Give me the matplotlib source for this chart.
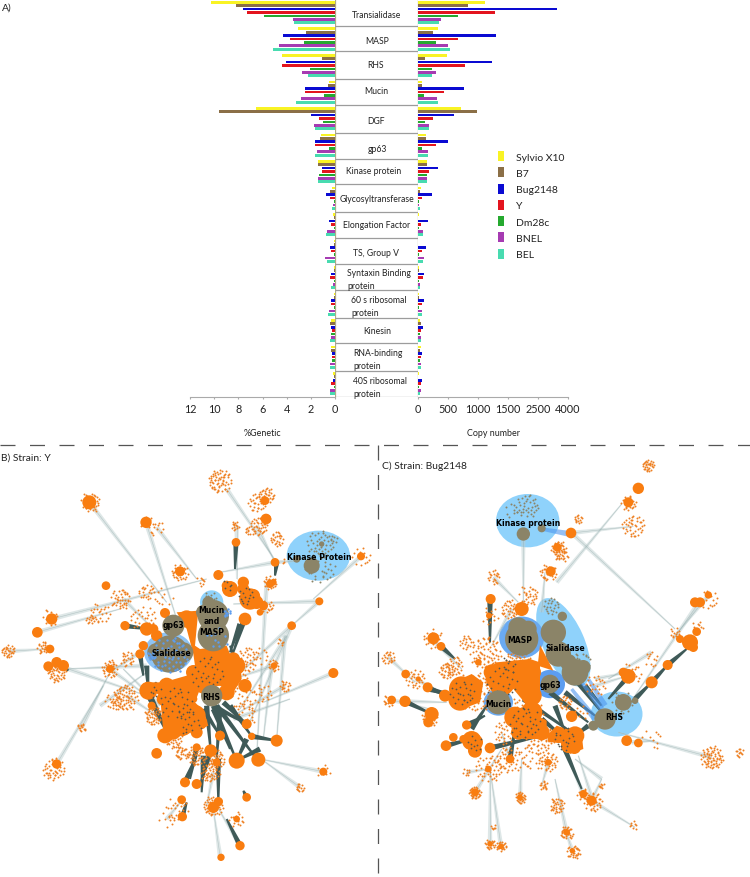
import numpy as np
import matplotlib
matplotlib.use("Agg")
import matplotlib.pyplot as plt
from matplotlib.collections import LineCollection, PolyCollection
from matplotlib.patches import Ellipse, Polygon

plt.rcParams['font.family'] = ['Lato', 'DejaVu Sans']

categories = ['Transialidase', 'MASP', 'RHS', 'Mucin', 'DGF', 'gp63', 'Kinase protein',
              'Glycosyltransferase', 'Elongation Factor', 'TS, Group V', 'Syntaxin Binding\nprotein',
              '60 s ribosomal\nprotein', 'Kinesin', 'RNA-binding\nprotein', '40S ribosomal\nprotein']
strains = ['Sylvio X10', 'B7', 'Bug2148', 'Y', 'Dm28c', 'BNEL', 'BEL']
strain_colors = ['#f9f324', '#8b6f47', '#0a0ad2', '#e3141e', '#25a92f', '#a63bb2', '#48dbb0']

# %Genetic, one row per category, same order as strains
genetic = [
    [10.26, 8.2, 7.6, 7.3, 5.9, 3.5, 3.4],
    [3.1, 2.4, 4.3, 3.7, 2.6, 4.6, 5.1],
    [4.4, 1.1, 4.05, 4.4, 2.07, 2.7, 2.2],
    [0.5, 0.6, 2.5, 2.5, 0.9, 2.85, 3.2],
    [6.5, 9.6, 2.0, 1.35, 1.0, 1.75, 1.65],
    [1.2, 1.25, 1.65, 1.65, 0.5, 1.5, 1.65],
    [1.4, 1.4, 1.05, 1.05, 1.3, 1.4, 1.4],
    [0.25, 0.4, 0.75, 0.4, 0.1, 0.2, 0.25],
    [0.15, 0.12, 0.5, 0.3, 0.08, 0.7, 0.75],
    [0.05, 0.05, 0.4, 0.35, 0.05, 0.85, 0.7],
    [0.05, 0.05, 0.35, 0.4, 0.05, 0.2, 0.35],
    [0.1, 0.1, 0.3, 0.35, 0.12, 0.5, 0.55],
    [0.35, 0.4, 0.3, 0.22, 0.3, 0.35, 0.4],
    [0.33, 0.36, 0.22, 0.22, 0.27, 0.4, 0.44],
    [0.13, 0.08, 0.2, 0.33, 0.1, 0.44, 0.4],
]
# copy number
copies = [
    [1110, 839, 3450, 1290, 667, 383, 356],
    [339, 250, 1294, 661, 300, 500, 528],
    [483, 117, 1228, 778, 239, 294, 239],
    [61, 67, 761, 439, 100, 311, 328],
    [711, 978, 594, 244, 117, 189, 178],
    [128, 128, 500, 294, 61, 161, 172],
    [150, 144, 328, 183, 150, 150, 144],
    [44, 39, 233, 72, 11, 17, 28],
    [17, 6, 167, 50, 11, 78, 78],
    [6, 6, 128, 61, 11, 94, 78],
    [11, 11, 100, 78, 11, 28, 39],
    [11, 17, 94, 67, 22, 61, 67],
    [28, 44, 89, 44, 28, 44, 44],
    [44, 39, 72, 44, 28, 44, 44],
    [17, 6, 61, 56, 11, 44, 39],
]
genetic_ticks = [12, 10, 8, 6, 4, 2, 0]
copy_ticks = [0, 500, 1000, 1500, 2500, 4000]

# network B, strain Y: hubs are x, y, radius in the crop grid of the panel
y_hubs = [(268,190,21),(438,250,17),(155,540,17),(112,580,16),(145,682,15),(190,680,17),(375,560,14),(318,440,13),
          (540,397,15),(655,408,15),(708,310,13),(798,240,16),(795,185,13),(825,370,13),(810,435,12),(958,487,12),
          (875,560,13),(1000,702,15),(1083,352,12),(170,975,14),(470,943,16),(495,890,23),(548,865,26),(585,830,32),
          (540,775,27),(445,755,27),(420,645,14),(330,690,12),(660,705,35),(735,540,19),(750,480,32),(690,450,24),
          (730,430,17),(770,490,20),(700,660,20),(735,740,20),(740,855,15),(755,892,11),(830,905,18),(775,962,21),
          (710,965,24),(660,890,15),(632,935,19),(590,925,12),(555,1030,15),(590,1035,15),(545,1082,13),(547,1133,14),
          (655,1088,14),(640,1105,17),(740,1075,13),(720,1220,14),(663,1255,11),(710,1140,10),(970,998,12),(580,780,12),
          (822,680,10),(515,835,12),(440,570,20),(470,590,17),(495,522,15),(150,630,13),(170,670,16),(680,760,24),
          (610,740,24),(500,740,24),(730,450,18),(680,440,15),(800,240,14),(760,470,20),(790,500,14),(780,520,10),
          (430,620,14),(460,570,15),(650,970,12),(590,880,18),(540,860,22),(490,780,20),(455,800,12),(820,430,10),
          (710,680,26),(640,640,26),(560,540,26),(600,850,22),(520,880,22),(580,700,22)]
y_core = [(530,520),(595,515),(585,620),(600,630),(680,620),(690,645),(720,660),(725,720),(700,760),(660,740),(600,750),
          (585,790),(610,815),(625,860),(550,890),(490,880),(480,770),(450,750),(435,730),(490,730),(560,710),(585,680),
          (580,645),(560,570)]
y_fringe = [(660,125,35,60),(770,190,30,30),(800,170,25,30),(775,260,30,40),(830,300,25,25),(705,260,15,14),(745,275,10,8),
            (270,190,30,35),(465,265,25,14),(440,250,20,10),(540,400,25,30),(1083,352,30,14),(25,637,20,30),(130,625,20,22),
            (170,700,30,50),(150,535,30,14),(330,690,30,35),(380,660,25,22),(375,775,40,70),(340,790,25,25),(300,520,30,25),
            (360,480,30,40),(440,460,25,22),(270,540,15,12),(245,865,15,14),(160,990,35,45),(820,680,20,18),(855,740,20,18),
            (740,660,40,35),(600,430,15,8),(900,1045,12,14),(970,998,20,8),(530,1110,35,22),(500,1140,25,8),(640,1100,30,45),
            (710,1140,25,15),(590,950,30,50),(630,1000,30,50),(650,960,30,30),(790,760,30,15),(460,830,30,50),(520,900,30,40),
            (545,940,20,25),(735,780,40,30),(810,430,20,25),(800,500,20,15),(430,540,40,30),(710,700,40,30),(780,650,30,10),
            (840,610,15,6),(745,820,40,15),(850,370,10,3),(490,470,30,10)]
y_specks = [(620,700,50,30),(530,790,50,30),(570,850,40,18),(740,470,30,15),(470,760,25,8),(680,440,20,6)]
y_dark = [(575,820,495,890),(585,830,548,865),(500,810,495,890),(450,770,495,860),(640,800,740,855),(650,800,770,960),
          (640,800,710,965),(620,800,632,935),(610,810,660,890),(670,790,740,855),(690,800,755,892),(740,900,710,965),
          (755,892,830,905),(720,555,690,640),(735,540,705,600),(445,755,470,730),(440,680,445,755),(420,645,430,710),
          (375,560,440,570),(830,370,825,410),(708,310,705,390),(547,1133,560,1090),(720,1220,680,1140),(740,1075,730,1055),
          (190,680,205,695),(590,925,570,1020),(632,935,600,1040),(655,960,655,1090),(630,800,620,700),(495,890,515,835),
          (440,760,500,880),(640,810,690,930),(660,810,650,960),(720,700,690,620),(730,550,700,640),(780,930,710,965),
          (555,1030,590,950),(610,950,605,1060)]
y_light = [(268,190,500,490),(438,250,530,540),(470,265,590,420),(680,150,830,370),(770,260,825,370),(825,370,660,400),
           (825,370,900,365),(1083,352,940,480),(958,487,700,495),(958,487,875,560),(1000,702,790,790),(205,690,440,770),
           (110,580,360,510),(155,540,620,420),(170,975,310,740),(245,865,330,700),(875,560,740,870),(875,560,700,720),
           (800,430,770,950),(970,998,780,960),(900,1045,790,965),(25,637,140,630),(815,680,790,900),(660,1250,640,1110),
           (720,1220,650,1100),(855,740,700,830),(855,590,830,900),(500,1140,545,1085),(440,680,200,690),(330,690,440,770),
           (380,770,470,830),(300,800,440,700),(820,680,700,720),(860,590,720,810),(700,840,870,780),(480,800,370,690),
           (420,640,330,700),(370,480,450,560),(710,260,710,420),(640,1000,620,1100)]
y_gray = [(935,380,24),(890,360,11),(965,315,8),(520,560,33),(510,645,56),(470,640,28),(550,640,30),(635,770,32),
          (640,530,47),(640,590,47),(625,490,18),(610,520,22)]
y_gray_fringe = [(960,315,40,40),(960,385,50,35),(1000,300,15,6),(630,480,25,15)]
y_blue_fringe = [(510,650,55,50),(650,600,40,10),(680,520,15,10),(455,650,15,10)]
y_blue = [(955,350,190,150,0,'#8fd2fb'),(635,490,70,72,0,'#8fd2fb'),(505,640,145,120,0,'#8fc4f5')]
y_labels = [('Kinase Protein',957,352),('Mucin\nand\nMASP',635,544),('gp63',521,558),('Sialidase',515,642),('RHS',633,772)]

# network C, strain Bug2148
bug_hubs = [(790,148,17),(760,190,15),(588,282,16),(547,325,13),(527,397,15),(347,480,15),(440,510,21),(342,530,9),
            (175,598,18),(198,622,13),(92,705,13),(158,745,15),(90,787,17),(50,783,13),(170,825,21),(160,850,15),
            (275,858,14),(235,895,13),(213,920,16),(290,905,29),(300,935,21),(345,927,16),(260,750,38),(255,780,35),
            (590,832,17),(600,890,28),(598,925,20),(755,905,16),(790,912,13),(760,712,22),(745,700,14),
            (830,730,18),(878,678,15),(945,610,24),(965,578,13),(975,490,15),(1000,468,11),(960,490,15),
            (405,960,13),(520,970,10),(340,990,10),(300,1060,12),(435,1075,9),(625,1065,12),(650,1085,15),(575,1180,10),
            (345,1215,8),(378,1222,8),(592,1235,8),(210,770,18),(380,730,40),(420,835,32),(470,820,32),(550,890,22),
            (130,720,8),(300,910,24),(265,900,12),(310,670,10),(915,600,12),(955,625,14),(470,700,28),(470,770,30),
            (350,700,24),(430,880,22),(500,880,24),(580,920,22),(290,740,24)]
bug_core = [[(330,695),(365,670),(465,660),(495,670),(495,780),(465,810),(415,750),(335,740)],
            [(235,730),(290,705),(325,730),(315,790),(275,805),(240,780)],
            [(395,825),(440,805),(515,845),(515,900),(445,900),(405,850)],
            [(515,890),(545,860),(620,885),(625,930),(585,945),(555,910),(520,910)]]
bug_fringe = [(820,80,18,30),(760,190,25,22),(775,262,35,40),(610,240,15,14),(355,415,25,20),(345,530,30,14),(405,510,30,35),
              (460,470,30,30),(520,400,25,30),(560,350,20,22),(175,598,30,22),(40,655,20,22),(120,720,30,30),(215,695,25,35),
              (270,610,25,18),(40,785,20,15),(165,835,30,35),(330,640,50,70),(430,660,40,60),(300,760,60,70),(450,830,60,70),
              (490,900,50,60),(405,960,40,45),(340,990,40,45),(520,970,30,35),(300,1060,20,30),(275,1000,15,8),(437,1075,20,30),
              (505,1040,15,15),(545,1100,25,35),(575,1180,20,30),(595,1240,20,30),(345,1215,15,22),(378,1222,15,22),(355,1165,8,6),
              (625,1065,20,15),(655,1090,30,35),(680,1040,10,8),(775,1160,15,8),(1010,955,35,70),(1095,940,15,12),(830,900,30,10),
              (770,700,30,22),(660,740,30,22),(830,660,25,12),(1000,480,30,16),(970,560,20,8),(900,580,20,12),(550,330,25,30),
              (570,790,25,22),(240,680,30,25),(390,880,40,30),(470,960,30,15),(620,820,20,8)]
bug_specks = [(380,730,50,25),(260,760,40,25),(450,850,50,35),(570,900,40,20),(300,910,30,10),(400,680,30,10)]
bug_dark = [(345,490,345,610),(198,622,240,660),(158,745,215,770),(90,787,170,825),(213,920,290,900),(345,927,420,910),
            (275,858,330,830),(445,780,590,880),(500,840,560,890),(540,800,570,880),(600,720,680,820),(630,740,680,800),
            (570,760,660,830),(525,760,640,850),(640,860,600,890),(780,780,830,730),(830,730,878,678),(878,678,935,630),
            (405,960,420,870),(565,920,620,1050),(760,712,700,780),(345,927,520,885),(290,870,335,800),(160,750,240,770)]
bug_light = [(445,285,445,490),(590,282,900,570),(545,430,740,195),(588,282,775,262),(1010,955,730,880),(1000,470,900,590),
             (965,500,780,770),(625,1065,565,920),(650,1085,680,1020),(680,1020,600,960),(345,1215,345,990),(378,1222,345,990),
             (575,1180,540,1020),(592,1235,570,1170),(435,1075,440,960),(300,1060,380,930),(650,1085,780,1165),(40,655,120,730),
             (50,783,165,810),(355,415,430,490),(830,640,700,720),(660,720,760,700),(770,910,840,905),(655,1090,610,950),
             (275,1000,340,990),(170,600,260,690),(410,510,350,620),(500,520,510,400),(520,970,500,1040),(405,960,380,880),
             (660,740,760,710),(90,787,215,790),(120,720,220,770)]
bug_blue_edges = [(620,730,680,810),(590,750,660,840),(640,720,690,800),(500,270,585,285)]
bug_gray = [(445,285,20),(500,268,12),(440,600,50),(430,565,30),(460,570,25),(535,580,38),(562,532,14),(550,645,38),
            (600,700,40),(625,685,22),(580,670,25),(525,735,28),(370,790,36),(690,840,32),(655,860,15),(745,790,25),(780,785,10)]
bug_gray_fringe = [(455,200,35,35),(410,215,25,8),(530,500,30,22),(740,790,40,22),(620,670,30,22)]
bug_blue_fringe = []
bug_blue = [(458,245,190,160,0,'#8fd2fb'),(565,610,125,285,-24,'#8fd2fb'),(725,825,155,135,0,'#8fd2fb'),
            (440,595,135,125,0,'#6aaaf2'),(525,735,90,85,0,'#5c9df0'),(370,790,88,80,0,'#6aaaf2')]
bug_labels = [('Kinase protein',458,250),('MASP',435,602),('Sialidase',572,626),('gp63',527,736),('Mucin',371,795),('RHS',718,832)]

# sparse dots around a hub, unit disc, read by eye off one of the outer clusters
stamp = np.array([(.1,.2),(-.3,.5),(.6,-.2),(-.7,-.3),(.2,-.8),(.8,.4),(-.1,-.4),(-.5,.8),(.4,.7),(-.9,.1),(.3,-.3),(.9,-.1),
                  (-.4,-.7),(0,.9),(.6,.55),(-.25,.05),(.45,.1),(-.65,.35),(.15,.55),(.7,-.6),(-.15,-.85),(-.55,-.1),(.05,-.55),
                  (.35,.35),(-.8,.55),(.95,.2),(-.35,.3),(.5,-.5),(-.05,.35),(.25,-.95),(-.75,-.6),(.75,.05),(-.45,.55),(.55,.85),
                  (-.2,-.2),(.15,.05),(-.95,-.2),(.4,-.7),(-.6,-.85),(.85,-.35)])
stamp = np.vstack([stamp, stamp[::-1][:, ::-1]*[-0.8, 0.9]])

fig = plt.figure(figsize=(7.5, 8.78), dpi=100)


def px_axes(x0, y0, x1, y1):
    # axes from picture pixels, y going down
    return fig.add_axes([x0/750, 1-y1/878, (x1-x0)/750, (y1-y0)/878])


# top part
cat_pos = np.arange(len(categories))
bar_step = 0.128
ylim = (14.89, -0.125)

ax_l = px_axes(190, 0, 335, 398)
ax_r = px_axes(418, 0, 568, 398)
gen = np.array(genetic)
cop = np.array(copies)
bars = []
for j, (s, c) in enumerate(zip(strains, strain_colors)):
    ax_l.barh(cat_pos + j*bar_step, gen[:, j], height=0.1, color=c)
    bars.append(ax_r.barh(cat_pos + j*bar_step, cop[:, j], height=0.1, color=c, label=s))

ax_l.set_xlim(12, 0)
ax_l.set_xticks(genetic_ticks)
ax_l.set_xlabel('%Genetic', fontsize=6.4, labelpad=10, color='#222222')

# ticks of the copy axis are equally spaced but not linear
tick_spots = np.arange(len(copy_ticks))
ax_r.set_xscale('function', functions=(lambda v: np.interp(v, copy_ticks, tick_spots),
                                       lambda p: np.interp(p, tick_spots, copy_ticks)))
ax_r.set_xlim(0, 4000)
ax_r.set_xticks(copy_ticks)
ax_r.set_xticklabels([str(t) for t in copy_ticks])
ax_r.minorticks_off()
ax_r.set_xlabel('Copy number', fontsize=6.4, labelpad=10, color='#222222')

for ax in (ax_l, ax_r):
    ax.set_ylim(*ylim)
    ax.set_yticks([])
    ax.patch.set_alpha(0)
    for sp in ['top', 'left', 'right']:
        ax.spines[sp].set_visible(False)
    ax.spines['bottom'].set_color('#aaaaaa')
    ax.tick_params(axis='x', length=1.5, color='#aaaaaa', labelsize=7.8, pad=3, labelcolor='#222222')

ax_r.legend(handles=bars, loc='upper left', bbox_to_anchor=(498/750, 1-152/878), bbox_transform=fig.transFigure,
            frameon=False, fontsize=7.5, labelspacing=0.55, handlelength=0.6, handleheight=1.1, handletextpad=1.1,
            borderpad=0, borderaxespad=0, labelcolor='#222222')

# white column with the names
ax_m = px_axes(335, 0, 418, 398)
ax_m.set_xlim(335, 418)
ax_m.set_ylim(398, 0)
ax_m.axis('off')
box_lines = [26.7, 52.3, 80.3, 106.3, 134.3, 159.7, 185.3, 213.3, 239.3, 265, 291, 319, 344.3, 372.3, 398.3]
label_y = [15, 41, 66, 92, 121, 149, 172, 199, 226, 253, 280, 307, 332, 360, 388]
label_x = [377, 377, 376, 376, 376, 377, 374, 377, 377, 376, 347, 351, 377, 353, 353]
ax_m.vlines([335, 418], 0, 398, color='#b0aa88', lw=0.9)
ax_m.hlines(box_lines, 335, 418, color='#9c9c9c', lw=0.9)
for name, tx, ty in zip(categories, label_x, label_y):
    ha = 'left' if '\n' in name else 'center'
    ax_m.text(tx, ty, name, ha=ha, va='center', fontsize=6.2, color='#222222', linespacing=1.5)


def wedges(rows, w0, w1):
    # edge bundles are wider at one end than at the other
    out = []
    for a, b, c, d in rows:
        dx, dy = c-a, d-b
        ln = max(np.hypot(dx, dy), 1)
        nx, ny = -dy/ln, dx/ln
        out.append([(a+nx*w0, b+ny*w0), (c+nx*w1, d+ny*w1), (c-nx*w1, d-ny*w1), (a-nx*w0, b-ny*w0)])
    return out


def draw_network(ax, hubs, core, fringe, specks, dark, light, blue_edges, gray, gray_fringe, blue_fringe, blue, labels):
    ax.set_xlim(0, 1125)
    ax.set_ylim(1314, 0)
    ax.axis('off')
    for cx, cy, w, h, ang, col in blue:
        ax.add_patch(Ellipse((cx, cy), w, h, angle=ang, color=col, lw=0, zorder=1))
    ax.add_collection(PolyCollection(wedges(light, 7, 2), facecolors='#bfd0d0', edgecolors='none', alpha=0.5, zorder=2))
    ax.add_collection(LineCollection([[(a, b), (c, d)] for a, b, c, d in light], colors='#8aa3a3', linewidths=0.4,
                                     alpha=0.5, zorder=2))
    ax.add_collection(PolyCollection(wedges(dark, 8, 3), facecolors='#3f5a58', edgecolors='none', zorder=3))
    if blue_edges:
        ax.add_collection(PolyCollection(wedges(blue_edges, 5, 9), facecolors='#4f97ee', edgecolors='none', alpha=0.6, zorder=3))
    for i, (cx, cy, r, n) in enumerate(fringe):
        pts = np.roll(stamp, i*7, axis=0)[:n] * (1 if i % 2 else -1)
        ax.scatter(cx + pts[:, 0]*r, cy + pts[:, 1]*r, s=2, color='#ee8022', lw=0, zorder=4)
    for poly in core:
        ax.add_patch(Polygon(poly, color='#f97d10', lw=0, zorder=5))
    for cx, cy, r in hubs:
        ax.add_patch(Ellipse((cx, cy), 2*r, 2*r, color='#f97d10', lw=0, zorder=5))
    for i, (cx, cy, r, n) in enumerate(specks):
        pts = np.roll(stamp, i*5, axis=0)[:n]
        ax.scatter(cx + pts[:, 0]*r, cy + pts[:, 1]*r, s=1.6, color='#56564a', lw=0, zorder=5.5)
    for i, (cx, cy, r, n) in enumerate(gray_fringe):
        pts = np.roll(stamp, i*11, axis=0)[:n]
        ax.scatter(cx + pts[:, 0]*r, cy + pts[:, 1]*r, s=2, color='#8b8468', lw=0, zorder=6)
    for cx, cy, r in gray:
        ax.add_patch(Ellipse((cx, cy), 2*r, 2*r, color='#8b8468', lw=0, zorder=6))
    for i, (cx, cy, r, n) in enumerate(blue_fringe):
        pts = np.roll(stamp, i*3, axis=0)[:n]
        ax.scatter(cx + pts[:, 0]*r, cy + pts[:, 1]*r, s=3, color='#5c9df0', lw=0, zorder=6.5)
    for text, tx, ty in labels:
        ax.text(tx, ty, text, ha='center', va='center', fontsize=5.6, fontweight='bold', color='black',
                family=['DejaVu Sans'], linespacing=1.3, zorder=8)


ax_b = px_axes(0, 440, 375, 878)
draw_network(ax_b, y_hubs, [y_core], y_fringe, y_specks, y_dark, y_light, [], y_gray, y_gray_fringe, y_blue_fringe,
             y_blue, y_labels)
ax_c = px_axes(375, 440, 750, 878)
draw_network(ax_c, bug_hubs, bug_core, bug_fringe, bug_specks, bug_dark, bug_light, bug_blue_edges, bug_gray,
             bug_gray_fringe, bug_blue_fringe, bug_blue, bug_labels)
ax_c.add_patch(Polygon([(495,618),(535,695),(488,680)], color='#f97d10', lw=0, zorder=7))

# dividers and panel letters on top of everything
ov = fig.add_axes([0, 0, 1, 1])
ov.set_xlim(0, 750)
ov.set_ylim(878, 0)
ov.axis('off')
ov.patch.set_alpha(0)
ov.plot([0, 750], [446, 446], color='#555555', lw=0.9, dashes=(15/1.25, 14.5/1.25))
ov.plot([377.5, 377.5], [446, 878], color='#555555', lw=0.9, dashes=(15/1.25, 14.5/1.25))
ov.text(2, 8, 'A)', fontsize=7.4, va='center', color='#222222')
ov.text(1, 458, 'B) Strain: Y', fontsize=7.4, va='center', color='#222222')
ov.text(382, 466, 'C) Strain: Bug2148', fontsize=7.4, va='center', color='#222222')

fig.savefig('out.png', dpi=100)
